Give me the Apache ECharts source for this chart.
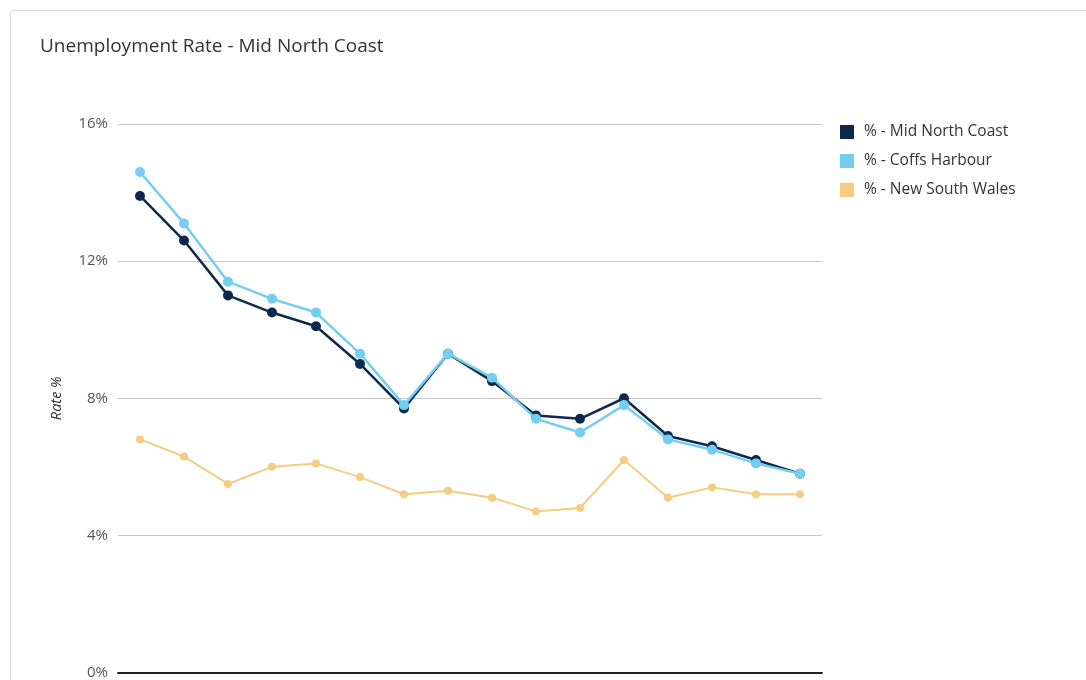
<!DOCTYPE html>
<html>
<head>
<meta charset="utf-8">
<script src="https://cdn.jsdelivr.net/npm/echarts@6/dist/echarts.min.js"></script>
<style>
  html, body { margin: 0; padding: 0; background: #ffffff; }
  #card {
    position: absolute; left: 10px; top: 10px; width: 1100px; height: 700px;
    border: 1px solid #dcdcdc; border-radius: 4px; background: #fff;
    box-shadow: 0 0 3px rgba(0,0,0,0.06);
  }
  #chart { position: absolute; left: 0; top: 0; width: 1086px; height: 680px; }
</style>
</head>
<body>
<div id="card"></div>
<div id="chart"></div>
<script>
// Periods along the x axis (labels fall below the visible area)
const categories = ['P1','P2','P3','P4','P5','P6','P7','P8','P9','P10','P11','P12','P13','P14','P15','P16'];

// Unemployment rate (%) by region
const midNorthCoast = [13.9, 12.6, 11.0, 10.5, 10.1, 9.0, 7.7, 9.3, 8.5, 7.5, 7.4, 8.0, 6.9, 6.6, 6.2, 5.8];
const coffsHarbour  = [14.6, 13.1, 11.4, 10.9, 10.5, 9.3, 7.8, 9.3, 8.6, 7.4, 7.0, 7.8, 6.8, 6.5, 6.1, 5.8];
const newSouthWales = [6.8, 6.3, 5.5, 6.0, 6.1, 5.7, 5.2, 5.3, 5.1, 4.7, 4.8, 6.2, 5.1, 5.4, 5.2, 5.2];

const yTicks = [0, 4, 8, 12, 16];

const seriesNames = ['% - Mid North Coast', '% - Coffs Harbour', '% - New South Wales'];
const seriesColors = ['#0d2a4e', '#74cdf2', '#f6cc80'];

const chart = echarts.init(document.getElementById('chart'), null, { renderer: 'canvas' });

const font = '"Open Sans", "DejaVu Sans", sans-serif';

chart.setOption({
  animation: false,
  backgroundColor: 'transparent',
  title: {
    text: 'Unemployment Rate - Mid North Coast',
    left: 35, top: 32,
    textStyle: { fontFamily: font, fontSize: 19, fontWeight: 'normal', color: '#333' }
  },
  legend: {
    orient: 'vertical',
    left: 835, top: 119,
    itemWidth: 14, itemHeight: 14, itemGap: 13,
    icon: 'rect',
    textStyle: { fontFamily: font, fontSize: 15.5, color: '#333', padding: [0, 0, 0, 5] },
    data: seriesNames
  },
  grid: { left: 118, right: 264, top: 124, bottom: 4, containLabel: false },
  xAxis: {
    type: 'category',
    data: categories,
    boundaryGap: true,
    axisLine: { show: true, lineStyle: { color: '#222', width: 2 } },
    axisTick: { show: false },
    axisLabel: { show: false },
    splitLine: { show: false }
  },
  yAxis: {
    type: 'value',
    min: yTicks[0], max: yTicks[yTicks.length - 1], interval: 4,
    name: 'Rate %',
    nameLocation: 'middle',
    nameGap: 54,
    nameRotate: 90,
    nameTextStyle: { fontFamily: font, fontSize: 14.5, fontStyle: 'italic', color: '#333' },
    axisLine: { show: false },
    axisTick: { show: false },
    axisLabel: {
      fontFamily: font, fontSize: 15, color: '#555', margin: 10,
      formatter: v => v + '%'
    },
    splitLine: { lineStyle: { color: '#c8c8c8', width: 1 } }
  },
  series: [
    {
      name: seriesNames[0], type: 'line', data: midNorthCoast,
      symbol: 'circle', symbolSize: 10,
      itemStyle: { color: seriesColors[0] },
      lineStyle: { color: seriesColors[0], width: 2.5 },
      z: 3
    },
    {
      name: seriesNames[1], type: 'line', data: coffsHarbour,
      symbol: 'circle', symbolSize: 10,
      itemStyle: { color: seriesColors[1] },
      lineStyle: { color: seriesColors[1], width: 2.5 },
      z: 4
    },
    {
      name: seriesNames[2], type: 'line', data: newSouthWales,
      symbol: 'circle', symbolSize: 8,
      itemStyle: { color: seriesColors[2] },
      lineStyle: { color: seriesColors[2], width: 2 },
      z: 2
    }
  ]
});
</script>
</body>
</html>
